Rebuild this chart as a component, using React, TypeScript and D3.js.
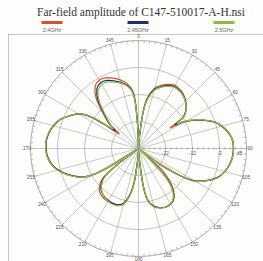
import * as d3 from "d3";

// angles (deg, clockwise from top) and far-field amplitude (dB)
const ANGLES = [
  0, 4, 7, 10, 15, 20, 25, 30, 35, 40,
  45, 50, 55, 57, 59, 62, 66, 71, 75, 80,
  85, 90, 95, 100, 105, 110, 115, 120, 123, 126,
  129, 132, 135, 138, 142, 146, 150, 155, 160, 165,
  170, 173, 176, 180, 184, 187, 190, 195, 200, 205,
  210, 215, 220, 225, 230, 233, 236, 238, 241, 245,
  250, 255, 260, 265, 270, 275, 280, 285, 290, 295,
  300, 303, 305, 307, 310, 315, 320, 325, 330, 335,
  340, 345, 350, 354, 356, 358,
];

const DB_245 = [
  -31.3, -28.3, -19.0, -13.5, -9.4, -7.6, -6.3, -5.5, -5.7, -6.3,
  -7.4, -9.0, -11.6, -15.7, -13.1, -9.8, -6.1, -2.0, 0.0, 1.9,
  3.0, 3.2, 3.0, 2.3, 1.1, -0.7, -3.9, -7.9, -13.5, -22.7,
  -30.5, -29.8, -20.9, -14.6, -10.9, -9.0, -8.3, -8.1, -8.7, -9.8,
  -12.7, -18.7, -28.3, -30.9, -27.6, -19.8, -15.0, -10.9, -9.8, -9.6,
  -9.8, -10.1, -10.9, -12.2, -15.3, -22.7, -30.9, -17.9, -10.9, -7.2,
  -3.9, -1.1, 0.8, 1.9, 2.3, 2.3, 1.7, 0.6, -0.9, -3.5,
  -6.4, -9.4, -14.2, -20.9, -18.3, -14.2, -8.7, -5.1, -3.9, -4.2,
  -5.3, -6.6, -8.3, -10.9, -14.6, -23.9,
];

const DB_24 = [
  -31.0, -28.0, -18.6, -13.0, -8.9, -7.1, -5.8, -5.0, -5.3, -6.0,
  -7.2, -8.9, -11.8, -18.0, -13.6, -9.9, -6.2, -2.1, -0.1, 1.8,
  2.9, 3.1, 2.9, 2.2, 1.0, -0.8, -4.0, -8.2, -13.0, -20.5,
  -31.0, -21.0, -17.0, -13.5, -10.6, -8.9, -8.2, -8.0, -8.6, -9.7,
  -12.5, -18.5, -28.0, -30.8, -27.8, -20.0, -15.2, -11.0, -9.8, -9.4,
  -9.4, -9.5, -10.1, -11.4, -14.6, -22.0, -30.9, -18.2, -11.0, -7.3,
  -4.0, -1.2, 0.7, 1.8, 2.2, 2.2, 1.6, 0.5, -1.0, -3.6,
  -6.5, -9.8, -16.0, -23.0, -18.0, -13.4, -7.6, -4.0, -2.8, -3.1,
  -4.3, -5.7, -7.6, -10.4, -14.3, -23.5,
];

const DB_25 = [
  -31.5, -28.6, -19.4, -13.9, -9.7, -7.9, -6.6, -5.8, -5.9, -6.4,
  -7.4, -8.9, -11.4, -15.0, -12.8, -9.6, -5.9, -1.9, 0.1, 2.0,
  3.0, 3.2, 3.0, 2.3, 1.1, -0.6, -3.8, -7.7, -13.8, -23.5,
  -30.6, -30.2, -21.8, -15.0, -11.2, -9.2, -8.4, -8.1, -8.6, -9.6,
  -12.4, -18.4, -28.2, -30.9, -27.2, -19.2, -14.6, -10.5, -9.4, -9.2,
  -9.5, -10.0, -11.0, -12.5, -15.8, -23.2, -30.9, -17.6, -10.7, -7.0,
  -3.7, -0.9, 1.0, 2.0, 2.4, 2.4, 1.8, 0.7, -0.8, -3.4,
  -6.3, -9.2, -13.8, -20.0, -18.5, -14.8, -9.5, -5.9, -4.7, -4.8,
  -5.8, -7.0, -8.6, -11.2, -14.9, -24.3,
];

const SERIES = [
  { name: "2.4GHz", values: DB_24, color: "#d4522c" },
  { name: "2.45GHz", values: DB_245, color: "#1d2f68" },
  { name: "2.5GHz", values: DB_25, color: "#8cbd45" },
];

const RING_DB = [-22, -12, -2];
const ANGLE_LABELS = d3.range(0, 360, 15);

const W = 263;
const H = 261;
const CX = 138.5;
const CY = 148.5;
const R = 108;

export default function App() {
  const r = d3.scaleLinear().domain([-32, 8]).range([0, R]).clamp(true);
  const rad = (deg: number) => (deg * Math.PI) / 180;
  const px = (deg: number, rr: number) => [Math.sin(rad(deg)) * rr, -Math.cos(rad(deg)) * rr];

  const line = d3
    .lineRadial<number>()
    .angle((_, i) => rad(ANGLES[i]))
    .radius((d) => r(d))
    .curve(d3.curveCardinalClosed.tension(0.2));

  const outerTicks = d3.range(0, 360, 3);
  const axisTicks = d3.range(-32, 8.1, 2);

  return (
    <svg
      width={W}
      height={H}
      style={{ position: "absolute", left: 0, top: 0, background: "#fdfdfb" }}
    >
      <text
        x={141}
        y={16}
        textAnchor="middle"
        fontFamily="Liberation Serif, serif"
        fontSize={11.5}
        fill="#333"
      >
        Far-field amplitude of C147-510017-A-H.nsi
      </text>

      {SERIES.map((s, i) => {
        const x = [52, 138, 224][i];
        return (
          <g key={s.name}>
            <rect x={x - 10.5} y={21} width={21} height={3} fill={s.color} />
            <text
              x={x}
              y={32}
              textAnchor="middle"
              fontFamily="Liberation Sans, sans-serif"
              fontSize={5.5}
              fill="#666"
            >
              {s.name}
            </text>
          </g>
        );
      })}

      <rect x={8.5} y={34.5} width={270} height={240} fill="none" stroke="#b8b8b8" strokeWidth={0.8} />

      <g transform={`translate(${CX},${CY})`}>
        {RING_DB.map((d) => (
          <circle key={d} r={r(d)} fill="none" stroke="#9a9a9a" strokeWidth={0.6} />
        ))}
        <circle r={R} fill="none" stroke="#8a8a8a" strokeWidth={0.7} />

        {ANGLE_LABELS.map((a) => {
          const [x, y] = px(a, R);
          return <line key={a} x1={0} y1={0} x2={x} y2={y} stroke="#9a9a9a" strokeWidth={0.55} />;
        })}

        {outerTicks.map((a) => {
          const [x1, y1] = px(a, R);
          const [x2, y2] = px(a, R - 2.5);
          return <line key={a} x1={x1} y1={y1} x2={x2} y2={y2} stroke="#8a8a8a" strokeWidth={0.5} />;
        })}

        {axisTicks.map((d) => (
          <line key={d} x1={r(d)} y1={-1.2} x2={r(d)} y2={1.2} stroke="#777" strokeWidth={0.5} />
        ))}

        {ANGLE_LABELS.map((a) => {
          const [x, y] = px(a, R + 3.5);
          return (
            <text
              key={a}
              x={x}
              y={y}
              textAnchor="middle"
              dominantBaseline="middle"
              fontFamily="Liberation Sans, sans-serif"
              fontSize={4.8}
              fill="#555"
            >
              {a}
            </text>
          );
        })}

        {RING_DB.map((d) => (
          <text
            key={d}
            x={r(d)}
            y={6}
            textAnchor="middle"
            fontFamily="Liberation Sans, sans-serif"
            fontSize={4.8}
            fill="#555"
          >
            {d}
          </text>
        ))}
        <text x={101} y={6} textAnchor="middle" fontFamily="Liberation Sans, sans-serif" fontSize={4.8} fill="#555">
          dB
        </text>

        {SERIES.map((s) => (
          <path
            key={s.name}
            d={line(s.values) ?? ""}
            fill="none"
            stroke={s.color}
            strokeWidth={1.25}
            strokeLinejoin="round"
          />
        ))}
      </g>
    </svg>
  );
}
